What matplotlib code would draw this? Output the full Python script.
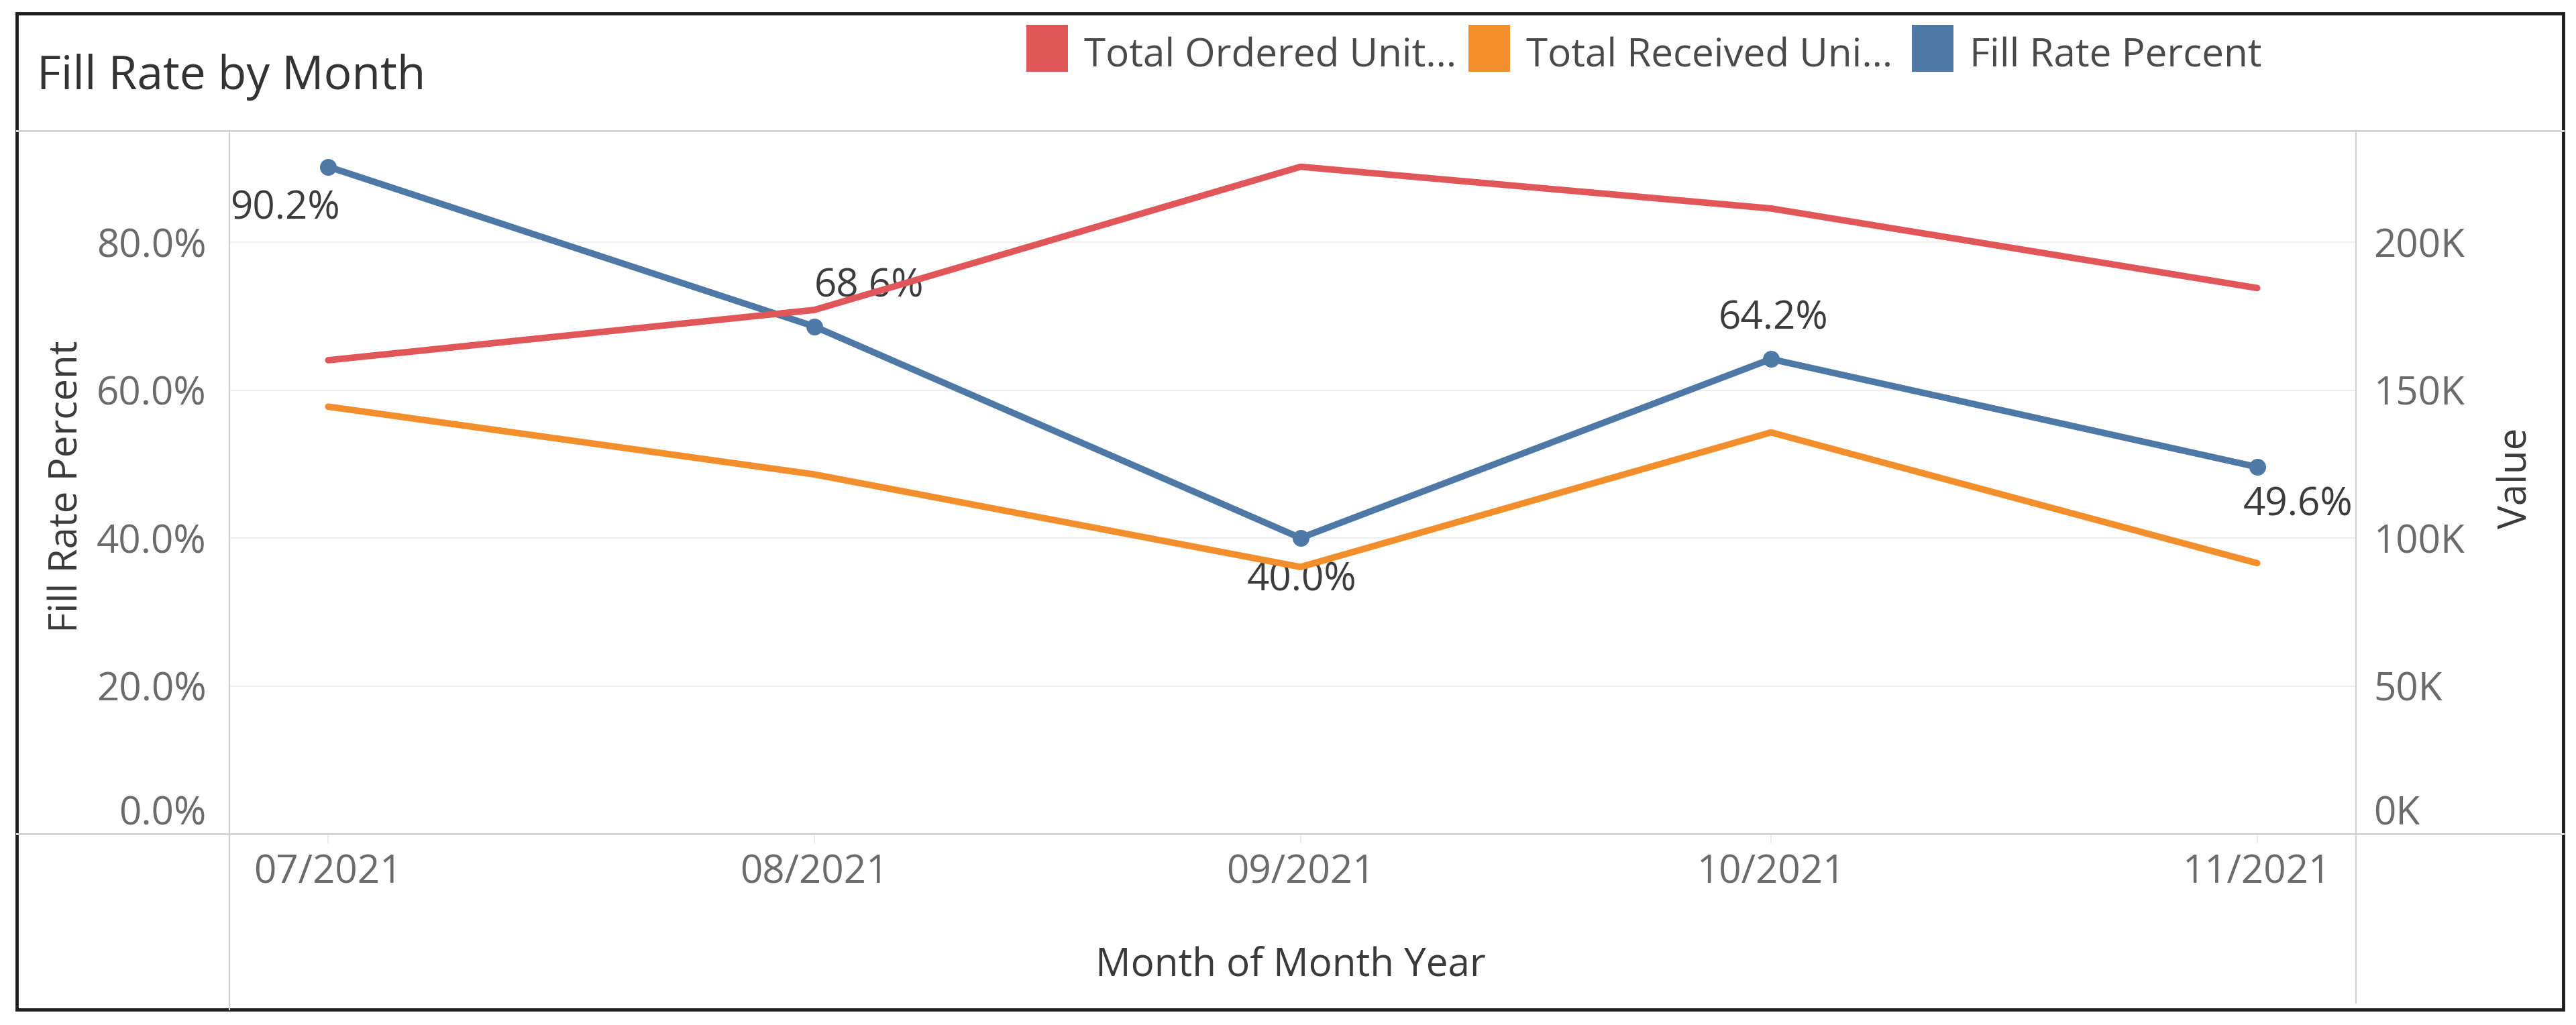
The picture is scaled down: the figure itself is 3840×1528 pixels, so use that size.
import matplotlib
matplotlib.use('Agg')
import matplotlib.pyplot as plt
from matplotlib.lines import Line2D
from matplotlib.patches import Rectangle
from matplotlib.ticker import FuncFormatter
from datetime import datetime, timedelta

plt.rcParams['font.family'] = ['Open Sans', 'DejaVu Sans']

# data
months = [datetime(2021, 7, 1), datetime(2021, 8, 1), datetime(2021, 9, 1),
          datetime(2021, 10, 1), datetime(2021, 11, 1)]
month_labels = ['07/2021', '08/2021', '09/2021', '10/2021', '11/2021']
fill_rate = [90.2, 68.6, 40.0, 64.2, 49.6]
ordered_units = [160100, 177100, 225500, 211400, 184500]
received_units = [144400, 121500, 90200, 135700, 91500]

legend_names = ['Total Ordered Unit...', 'Total Received Uni...', 'Fill Rate Percent']
colors = ['#E15759', '#F28E2B', '#4E79A7']

# label placement (ha, dx px, dy px)
label_place = [('right', 17, -63), ('left', 0, 59), ('center', 2, -63),
               ('center', 4, 60), ('right', 143, -57)]

W, H = 3840, 1528
fig = plt.figure(figsize=(W / 100, H / 100), dpi=100)


def fx(px):
    return px / W


def fy(py):
    return 1 - py / H


L, R, T, B = 342, 3512, 195, 1243
ax = fig.add_axes([fx(L), fy(B), fx(R) - fx(L), fy(T) - fy(B)])
ax2 = ax.twinx()

ax.plot(months, fill_rate, color=colors[2], lw=7, marker='o', markersize=17,
        solid_joinstyle='round', solid_capstyle='round')
ax2.plot(months, ordered_units, color=colors[0], lw=7,
         solid_joinstyle='round', solid_capstyle='round')
ax2.plot(months, received_units, color=colors[1], lw=7,
         solid_joinstyle='round', solid_capstyle='round')

for m, v, (ha, dx, dy) in zip(months, fill_rate, label_place):
    ax.annotate(f'{v:.1f}%', (m, v), xytext=(dx, dy), textcoords='offset pixels',
                ha=ha, va='center', fontsize=42, color='#3c3c3c', clip_on=True)

ax.set_xlim(months[0] - timedelta(days=6.3), months[-1] + timedelta(days=6.3))
ax.set_ylim(0, 95.06)
ax2.set_ylim(0, 237650)

ax.set_yticks([0, 20, 40, 60, 80])
ax.yaxis.set_major_formatter(FuncFormatter(lambda v, p: f'{v:.1f}%'))
ax2.set_yticks([0, 50000, 100000, 150000, 200000])
ax2.yaxis.set_major_formatter(FuncFormatter(lambda v, p: f'{v / 1000:.0f}K'))
ax.set_xticks(months)
ax.set_xticklabels(month_labels)

ax.tick_params(axis='y', length=0, pad=25, labelsize=42, labelcolor='#6b6b6b')
ax2.tick_params(axis='y', length=0, pad=19, labelsize=42, labelcolor='#6b6b6b')
ax.tick_params(axis='x', length=10, width=1.2, color='#e6e6e6', pad=11,
               labelsize=42, labelcolor='#6b6b6b')

ax.yaxis.get_major_ticks()[0].label1.set_verticalalignment('bottom')
ax2.yaxis.get_major_ticks()[0].label2.set_verticalalignment('bottom')

ax.grid(axis='y', color='#efefef', lw=1.5)
ax.grid(axis='x', visible=False)
ax.set_axisbelow(True)
for a in (ax, ax2):
    for s in a.spines.values():
        s.set_visible(False)

ax.set_ylabel('Fill Rate Percent', fontsize=42, color='#3a3a3a', va='center')
ax.yaxis.set_label_coords((100 - L) / (R - L), (B - 725) / (B - T))
ax2.set_ylabel('Value', fontsize=42, color='#3a3a3a', rotation=90, va='center')
ax2.yaxis.set_label_coords((3751 - L) / (R - L), (B - 713) / (B - T))
ax.set_xlabel('Month of Month Year', fontsize=42, color='#3a3a3a', va='center')
ax.xaxis.set_label_coords((1924 - L) / (R - L), (B - 1440) / (B - T))

# frame and pane separators
def fline(x0, y0, x1, y1, color, lw):
    fig.add_artist(Line2D([fx(x0), fx(x1)], [fy(y0), fy(y1)],
                          transform=fig.transFigure, color=color, lw=lw))


fline(25, T, 3821, T, '#d6d6d6', 2.2)
fline(25, B, 3821, B, '#d6d6d6', 2.2)
fline(L, T, L, 1505, '#d0d0d0', 1.6)
fline(R, T, R, 1495, '#d0d0d0', 1.6)
fig.add_artist(Rectangle((fx(25), fy(1505)), fx(3821) - fx(25), fy(20) - fy(1505),
                         transform=fig.transFigure, fill=False,
                         edgecolor='#1e1e1e', lw=3.5))

# title and legend
fig.text(fx(55), fy(133), 'Fill Rate by Month', ha='left', va='baseline',
         fontsize=50, color='#333333')

legend_x = [1530, 2189, 2850]
for x0, name, c in zip(legend_x, legend_names, colors):
    fig.add_artist(Rectangle((fx(x0), fy(107)), fx(62), fy(37) - fy(107),
                             transform=fig.transFigure, color=c, lw=0))
    fig.text(fx(x0 + 86), fy(100), name, ha='left', va='baseline',
             fontsize=42, color='#4a4a4a')

fig.savefig('out.png', dpi=100)
